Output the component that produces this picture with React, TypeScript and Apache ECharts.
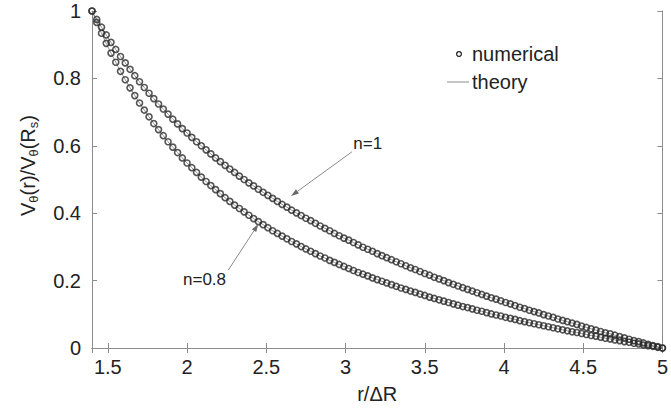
import React, { useEffect, useRef } from "react";
import * as echarts from "echarts";

// r / ΔR sample positions
const rValues = [
  1.40, 1.43, 1.46, 1.49, 1.52, 1.55, 1.58, 1.61, 1.64, 1.67, 1.70, 1.73, 1.76, 1.79, 1.82, 1.85, 1.88, 1.91, 1.94, 1.97,
  2.00, 2.03, 2.06, 2.09, 2.12, 2.15, 2.18, 2.21, 2.24, 2.27, 2.30, 2.33, 2.36, 2.39, 2.42, 2.45, 2.48, 2.51, 2.54, 2.57,
  2.60, 2.63, 2.66, 2.69, 2.72, 2.75, 2.78, 2.81, 2.84, 2.87, 2.90, 2.93, 2.96, 2.99, 3.02, 3.05, 3.08, 3.11, 3.14, 3.17,
  3.20, 3.23, 3.26, 3.29, 3.32, 3.35, 3.38, 3.41, 3.44, 3.47, 3.50, 3.53, 3.56, 3.59, 3.62, 3.65, 3.68, 3.71, 3.74, 3.77,
  3.80, 3.83, 3.86, 3.89, 3.92, 3.95, 3.98, 4.01, 4.04, 4.07, 4.10, 4.13, 4.16, 4.19, 4.22, 4.25, 4.28, 4.31, 4.34, 4.37,
  4.40, 4.43, 4.46, 4.49, 4.52, 4.55, 4.58, 4.61, 4.64, 4.67, 4.70, 4.73, 4.76, 4.79, 4.82, 4.85, 4.88, 4.91, 4.94, 4.97,
  5.00,
];

// n = 1 curve
const vN1 = [
  1.000, 0.975, 0.952, 0.929, 0.907, 0.886, 0.865, 0.846, 0.827, 0.808, 0.790, 0.773, 0.756, 0.740, 0.724, 0.709, 0.694, 0.679, 0.665, 0.651,
  0.638, 0.625, 0.612, 0.600, 0.588, 0.576, 0.564, 0.553, 0.542, 0.531, 0.521, 0.510, 0.500, 0.490, 0.481, 0.471, 0.462, 0.453, 0.444, 0.435,
  0.426, 0.418, 0.409, 0.401, 0.393, 0.385, 0.378, 0.370, 0.362, 0.355, 0.348, 0.340, 0.333, 0.326, 0.320, 0.313, 0.306, 0.299, 0.293, 0.287,
  0.280, 0.274, 0.268, 0.262, 0.256, 0.250, 0.244, 0.238, 0.233, 0.227, 0.221, 0.216, 0.210, 0.205, 0.200, 0.194, 0.189, 0.184, 0.179, 0.174,
  0.169, 0.164, 0.159, 0.154, 0.149, 0.145, 0.140, 0.135, 0.131, 0.126, 0.121, 0.117, 0.112, 0.108, 0.104, 0.099, 0.095, 0.091, 0.086, 0.082,
  0.078, 0.074, 0.070, 0.065, 0.061, 0.057, 0.053, 0.049, 0.045, 0.042, 0.038, 0.034, 0.030, 0.026, 0.022, 0.019, 0.015, 0.011, 0.007, 0.004,
  0.000,
];

// n = 0.8 curve
const vN08 = [
  1.000, 0.966, 0.934, 0.904, 0.875, 0.848, 0.821, 0.796, 0.772, 0.749, 0.727, 0.706, 0.686, 0.666, 0.648, 0.630, 0.612, 0.596, 0.580, 0.564,
  0.549, 0.535, 0.521, 0.507, 0.494, 0.482, 0.470, 0.458, 0.446, 0.435, 0.424, 0.414, 0.404, 0.394, 0.384, 0.375, 0.366, 0.357, 0.348, 0.340,
  0.332, 0.324, 0.316, 0.309, 0.301, 0.294, 0.287, 0.280, 0.273, 0.267, 0.260, 0.254, 0.248, 0.242, 0.236, 0.230, 0.224, 0.219, 0.214, 0.208,
  0.203, 0.198, 0.193, 0.188, 0.183, 0.178, 0.174, 0.169, 0.165, 0.160, 0.156, 0.151, 0.147, 0.143, 0.139, 0.135, 0.131, 0.127, 0.123, 0.120,
  0.116, 0.112, 0.109, 0.105, 0.101, 0.098, 0.095, 0.091, 0.088, 0.085, 0.081, 0.078, 0.075, 0.072, 0.069, 0.066, 0.063, 0.060, 0.057, 0.054,
  0.051, 0.048, 0.046, 0.043, 0.040, 0.037, 0.035, 0.032, 0.029, 0.027, 0.024, 0.022, 0.019, 0.017, 0.014, 0.012, 0.009, 0.007, 0.005, 0.002,
  0.000,
];

const legendLabels = ["numerical", "theory"];

// annotation: label position, arrow start, arrow tip (data coordinates)
const annotationLabels = ["n=1", "n=0.8"];
const annotationText = [[3.14, 0.608], [2.11, 0.202]];
const annotationFrom = [[3.04, 0.582], [2.26, 0.231]];
const annotationTo = [[2.656, 0.451], [2.45, 0.368]];

const FONT = "'Liberation Sans', Arial, Helvetica, sans-serif";
const TEXT = "#222222";
const AXIS = "#8c8c8c";

export default function App() {
  const ref = useRef<HTMLDivElement>(null);

  useEffect(() => {
    document.body.style.margin = "0";
    if (!ref.current) return;
    const chart = echarts.init(ref.current, undefined, { renderer: "svg" });

    const pairs = (vals: number[]) => rValues.map((r, i) => [r, vals[i]]);
    const d1 = pairs(vN1);
    const d2 = pairs(vN08);

    const tickStyle = { inside: true, length: 5, lineStyle: { color: AXIS } };
    const lineStyleAxis = { show: true, lineStyle: { color: AXIS, width: 1 } };

    const theory = (data: number[][]) => ({
      type: "line",
      data,
      showSymbol: false,
      symbol: "none",
      lineStyle: { color: "#777", width: 0.8 },
      z: 2,
    });
    const numerical = (data: number[][]) => ({
      type: "scatter",
      data,
      symbol: "circle",
      symbolSize: 6,
      itemStyle: { color: "rgba(0,0,0,0)", borderColor: "#2a2a2a", borderWidth: 1.6 },
      z: 3,
    });

    chart.setOption({
      animation: false,
      grid: { left: 92, right: 4, top: 11, bottom: 64 },
      xAxis: [
        {
          type: "value",
          min: 1.4,
          max: 5,
          splitNumber: 7,
          minInterval: 0.5,
          maxInterval: 0.5,
          name: "r/\u0394R",
          nameLocation: "middle",
          nameGap: 36,
          nameTextStyle: { fontSize: 20, color: TEXT, fontFamily: FONT },
          axisLine: lineStyleAxis,
          axisTick: tickStyle,
          splitLine: { show: false },
          axisLabel: { showMinLabel: false, fontSize: 20, color: TEXT, fontFamily: FONT, margin: 9 },
        },
        {
          type: "value",
          position: "top",
          min: 1.4,
          max: 5,
          splitNumber: 7,
          minInterval: 0.5,
          maxInterval: 0.5,
          axisLine: lineStyleAxis,
          axisTick: tickStyle,
          splitLine: { show: false },
          axisLabel: { show: false },
        },
      ],
      yAxis: [
        {
          type: "value",
          min: 0,
          max: 1,
          interval: 0.2,
          name: "{n|V}{s|\u03b8}{n|(r)/V}{s|\u03b8}{n|(R}{s|s}{n|)}",
          nameLocation: "middle",
          nameGap: 52,
          nameTextStyle: {
            color: TEXT,
            fontFamily: FONT,
            padding: [0, 0, 0, 28],
            rich: {
              n: { fontSize: 20, color: TEXT, fontFamily: FONT },
              s: { fontSize: 13, color: TEXT, fontFamily: FONT, padding: [11, 0, 0, 0] },
            },
          },
          axisLine: lineStyleAxis,
          axisTick: tickStyle,
          splitLine: { show: false },
          axisLabel: { fontSize: 20, color: TEXT, fontFamily: FONT, margin: 11 },
        },
        {
          type: "value",
          position: "right",
          min: 0,
          max: 1,
          interval: 0.2,
          axisLine: lineStyleAxis,
          axisTick: tickStyle,
          splitLine: { show: false },
          axisLabel: { show: false },
        },
      ],
      series: [theory(d1), theory(d2), numerical(d1), numerical(d2)],
    });

    const toPx = (p: number[]) => chart.convertToPixel({ gridIndex: 0 }, p) as number[];
    const graphics: any[] = [];

    annotationLabels.forEach((label, i) => {
      const t = toPx(annotationText[i]);
      const a = toPx(annotationFrom[i]);
      const b = toPx(annotationTo[i]);
      const dx = b[0] - a[0];
      const dy = b[1] - a[1];
      const len = Math.sqrt(dx * dx + dy * dy);
      const ux = dx / len;
      const uy = dy / len;
      const hl = 8;
      const hw = 2.6;
      const base = [b[0] - ux * hl, b[1] - uy * hl];
      graphics.push({
        type: "line",
        shape: { x1: a[0], y1: a[1], x2: base[0], y2: base[1] },
        style: { stroke: "#8a8a8a", lineWidth: 1 },
        z: 10,
      });
      graphics.push({
        type: "polygon",
        shape: {
          points: [
            [b[0], b[1]],
            [base[0] - uy * hw, base[1] + ux * hw],
            [base[0] + uy * hw, base[1] - ux * hw],
          ],
        },
        style: { fill: "#6a6a6a" },
        z: 10,
      });
      graphics.push({
        type: "text",
        x: t[0],
        y: t[1],
        style: { text: label, fontSize: 17, fill: TEXT, fontFamily: FONT, align: "center", verticalAlign: "middle" },
        z: 10,
      });
    });

    // legend
    graphics.push({
      type: "circle",
      shape: { cx: 459, cy: 54, r: 2.4 },
      style: { fill: "none", stroke: "#2a2a2a", lineWidth: 1.3 },
      z: 10,
    });
    graphics.push({
      type: "text",
      x: 472,
      y: 54,
      style: { text: legendLabels[0], fontSize: 20, fill: TEXT, fontFamily: FONT, verticalAlign: "middle" },
      z: 10,
    });
    graphics.push({
      type: "line",
      shape: { x1: 447, y1: 82, x2: 469, y2: 82 },
      style: { stroke: "#8a8a8a", lineWidth: 1 },
      z: 10,
    });
    graphics.push({
      type: "text",
      x: 472,
      y: 82,
      style: { text: legendLabels[1], fontSize: 20, fill: TEXT, fontFamily: FONT, verticalAlign: "middle" },
      z: 10,
    });

    chart.setOption({ graphic: graphics });

    return () => chart.dispose();
  }, []);

  return <div ref={ref} style={{ width: 671, height: 412 }} />;
}
